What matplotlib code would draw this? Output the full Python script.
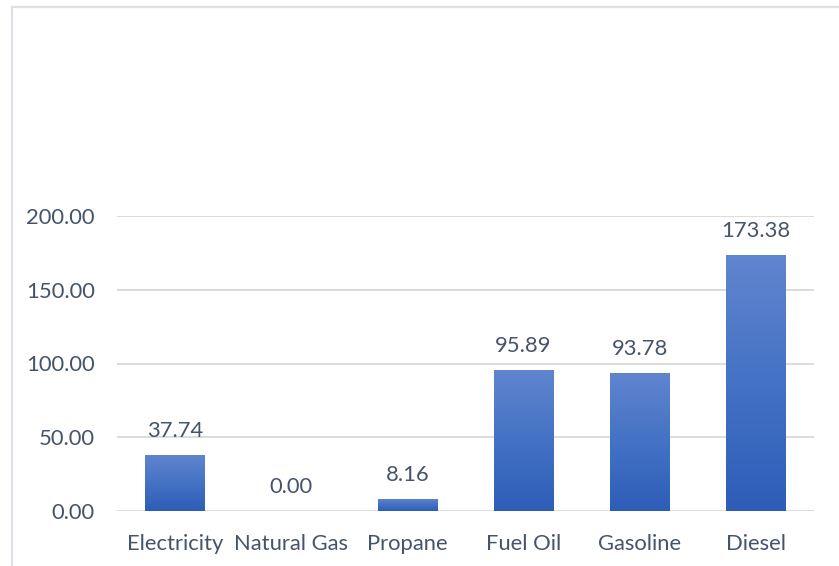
import numpy as np
import matplotlib
matplotlib.use('Agg')
import matplotlib.pyplot as plt
from matplotlib.colors import LinearSegmentedColormap
from matplotlib.lines import Line2D

categories = ['Electricity', 'Natural Gas', 'Propane', 'Fuel Oil', 'Gasoline', 'Diesel']
values = [37.74, 0.00, 8.16, 95.89, 93.78, 173.38]
yticks = [0, 50, 100, 150, 200]

W, H = 839, 566
text_color = '#44546A'
plt.rcParams['font.family'] = ['Lato', 'DejaVu Sans']

fig = plt.figure(figsize=(W / 100, H / 100), dpi=100)
ax = fig.add_axes([117 / W, 1 - 511 / H, (814 - 117) / W, (511 - 216) / H])

# chart border (top and left edges visible)
fig.add_artist(Line2D([12 / W, 1], [1 - 7 / H, 1 - 7 / H], color='#DDE0E7', lw=1.6))
fig.add_artist(Line2D([12 / W, 12 / W], [1 - 7 / H, 0], color='#DDE0E7', lw=1.6))

x = np.arange(len(categories))
bw = 0.51
cmap = LinearSegmentedColormap.from_list('g', ['#2D5DB8', '#4472C4', '#6185CF'])
grad = np.linspace(0, 1, 256).reshape(-1, 1)

ax.set_xlim(-0.5, len(categories) - 0.5)
ax.set_ylim(0, 200)
ax.set_yticks(yticks)
ax.set_yticklabels(['%.2f' % v for v in yticks])
ax.set_xticks(x)
ax.set_xticklabels(categories)
ax.grid(axis='y', color='#D9D9D9', lw=1.3)
ax.set_axisbelow(True)
for s in ax.spines.values():
    s.set_visible(False)
ax.tick_params(length=0, labelsize=15.8, labelcolor=text_color)
ax.tick_params(axis='y', pad=16)
ax.tick_params(axis='x', pad=16.5)

bars = ax.bar(x, values, width=bw, color='none', zorder=2)
for b, v in zip(bars, values):
    if v <= 0:
        continue
    im = ax.imshow(grad, cmap=cmap, origin='lower', aspect='auto',
                   extent=[b.get_x(), b.get_x() + bw, 0, v], zorder=2)
    im.set_clip_path(b)

for xi, v in zip(x, values):
    ax.annotate('%.2f' % v, (xi, v), xytext=(0, 10), textcoords='offset points',
                ha='center', va='bottom', fontsize=15.8, color=text_color,
                annotation_clip=False)

ax.set_xlim(-0.5, len(categories) - 0.5)
ax.set_ylim(0, 200)

fig.savefig('out.png', dpi=100)
